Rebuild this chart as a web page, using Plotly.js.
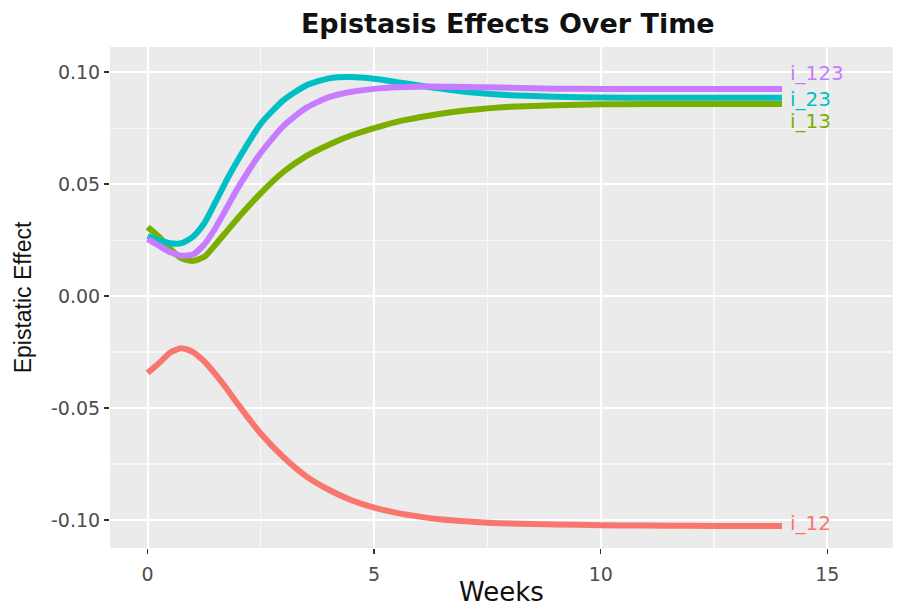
<!DOCTYPE html>
<html>
<head>
<meta charset="utf-8">
<script src="https://cdn.plot.ly/plotly-3.0.1.min.js"></script>
<style>html,body{margin:0;padding:0;background:#fff;}</style>
</head>
<body>
<div id="chart" style="width:901px;height:607px;"></div>
<script>
// ---- data ----
const weeks = [0,0.25,0.5,0.75,1,1.25,1.5,1.75,2,2.5,3,3.5,4,4.5,5,5.5,6,6.5,7,7.5,8,9,10,11,12,13,14];

const i_12  = [-0.0343,-0.0300,-0.0252,-0.0233,-0.0250,-0.0292,-0.0350,-0.0415,-0.0485,-0.0615,-0.0720,-0.0805,-0.0865,-0.0912,-0.0945,-0.0968,-0.0985,-0.0998,-0.1006,-0.1012,-0.1016,-0.1020,-0.1023,-0.1025,-0.1026,-0.1027,-0.1027];
const i_13  = [0.0308,0.0265,0.0210,0.0168,0.0157,0.0175,0.0230,0.0290,0.0350,0.0460,0.0555,0.0625,0.0676,0.0718,0.0750,0.0778,0.0798,0.0815,0.0828,0.0838,0.0845,0.0852,0.0856,0.0857,0.0858,0.0858,0.0858];
const i_23  = [0.0268,0.0250,0.0236,0.0236,0.0265,0.0325,0.0420,0.0520,0.0610,0.0770,0.0875,0.0940,0.0972,0.0978,0.0970,0.0955,0.0940,0.0925,0.0912,0.0903,0.0897,0.0890,0.0886,0.0885,0.0885,0.0885,0.0885];
const i_123 = [0.0254,0.0225,0.0195,0.0180,0.0185,0.0230,0.0305,0.0395,0.0485,0.0640,0.0760,0.0840,0.0888,0.0912,0.0925,0.0932,0.0935,0.0935,0.0933,0.0932,0.0930,0.0926,0.0925,0.0925,0.0925,0.0925,0.0925];

const seriesNames = ["i_12","i_13","i_23","i_123"];
const xTickVals = [0,5,10,15];
const xTickText = ["0","5","10","15"];
const yTickVals = [-0.10,-0.05,0.00,0.05,0.10];
const yTickText = ["-0.10","-0.05","0.00","0.05","0.10"];

// ---- drawing ----
const seriesValues = [i_12, i_13, i_23, i_123];
const colors = ["#F8766D","#7CAE00","#00BFC4","#C77CFF"];
const labelShift = [0.0012, -0.0075, -0.0003, 0.0072]; // small repel offsets for end labels

const traces = seriesNames.map((name, k) => ({
  type: "scatter",
  mode: "lines",
  name: name,
  x: weeks,
  y: seriesValues[k],
  line: {color: colors[k], width: 6, shape: "spline", smoothing: 0.6},
  hoverinfo: "x+y+name"
}));

const annotations = seriesNames.map((name, k) => ({
  x: weeks[weeks.length - 1],
  y: seriesValues[k][seriesValues[k].length - 1] + labelShift[k],
  xref: "x", yref: "y",
  text: name,
  showarrow: false,
  xanchor: "left",
  yanchor: "middle",
  xshift: 6,
  font: {family: "DejaVu Sans, sans-serif", size: 20, color: colors[k]}
}));

const gridWhite = "#FFFFFF";
const layout = {
  width: 901,
  height: 607,
  margin: {l: 110, r: 8, t: 47, b: 59},
  paper_bgcolor: "#FFFFFF",
  plot_bgcolor: "#EBEBEB",
  showlegend: false,
  title: {
    text: "Epistasis Effects Over Time",
    font: {family: "DejaVu Sans, sans-serif", size: 27, color: "#111111", weight: "bold"},
    x: 0.508, xref: "paper", xanchor: "center",
    y: 0.962, yref: "container", yanchor: "middle"
  },
  xaxis: {
    range: [-0.83, 16.45],
    tickmode: "array",
    tickvals: xTickVals,
    ticktext: xTickText,
    ticks: "outside", ticklen: 5, tickwidth: 1.5, tickcolor: "#333333",
    ticklabelstandoff: 4,
    tickfont: {family: "DejaVu Sans, sans-serif", size: 19, color: "#4D4D4D"},
    showgrid: true, gridcolor: gridWhite, gridwidth: 2.2,
    minor: {tickmode: "array", tickvals: [2.5, 7.5, 12.5], showgrid: true, gridcolor: "#F8F8F8", gridwidth: 1.1, ticks: ""},
    zeroline: false, showline: false,
    title: {text: "Weeks", font: {family: "DejaVu Sans, sans-serif", size: 26, color: "#111111"}, standoff: 8}
  },
  yaxis: {
    range: [-0.1125, 0.1112],
    tickmode: "array",
    tickvals: yTickVals,
    ticktext: yTickText,
    ticks: "outside", ticklen: 5, tickwidth: 1.5, tickcolor: "#333333",
    tickfont: {family: "DejaVu Sans, sans-serif", size: 19, color: "#4D4D4D"},
    showgrid: true, gridcolor: gridWhite, gridwidth: 2.2,
    minor: {tickmode: "array", tickvals: [-0.075, -0.025, 0.025, 0.075], showgrid: true, gridcolor: "#F8F8F8", gridwidth: 1.1, ticks: ""},
    zeroline: false, showline: false,
    title: {text: "Epistatic Effect", font: {family: "Liberation Sans, Arial, sans-serif", size: 23, color: "#111111"}, standoff: 12}
  },
  annotations: annotations
};

Plotly.newPlot("chart", traces, layout, {displayModeBar: false, staticPlot: true});
</script>
</body>
</html>
